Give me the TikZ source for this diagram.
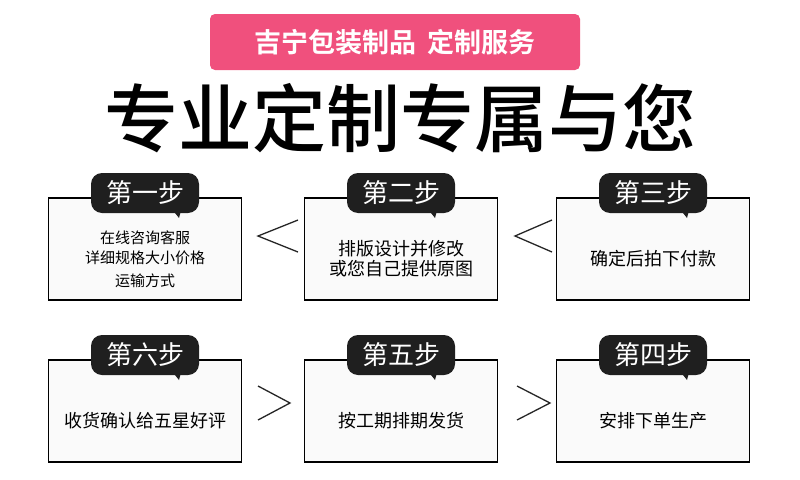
\documentclass[tikz,border=0pt]{standalone}
\usepackage{fontspec}
\newfontfamily\cjk{Noto Sans CJK SC}
\newfontfamily\cjkm{Noto Sans CJK SC Medium}
\newfontfamily\cjkb{Noto Sans CJK SC Bold}
\definecolor{banpink}{RGB}{240,80,125}
\begin{document}
\begin{tikzpicture}[x=1pt,y=-1pt,
  stepbox/.style={draw=black,line width=1.6pt,fill=black!2,minimum width=193pt,minimum height=102pt,inner sep=0pt},
  body/.style={font=\cjk\fontsize{#1}{20}\selectfont,align=center},
  tag/.style={fill=black!88,rounded corners=11pt,minimum width=108pt,minimum height=40pt,inner sep=0pt,text=white,font=\cjk\fontsize{26}{28}\selectfont},
  sign/.style={line width=1.3pt,black!85}]
\useasboundingbox (0,0) rectangle (800,479);
\fill[white] (0,0) rectangle (800,479);
\node[fill=banpink,rounded corners=5pt,minimum width=370pt,minimum height=56pt,text=white,font=\cjkb\fontsize{27}{29}\selectfont] (ban) at (395,42) {吉宁包装制品\hspace{0.4em}定制服务};
\node[font=\cjkm\fontsize{74}{76}\selectfont] (title) at (400,118) {专业定制专属与您};
\foreach \n/\x/\y/\t/\s/\f in {
 b1/145/249/{在线咨询客服\\详细规格大小价格\\[3pt]运输方式}/第一步/15,
 b2/401/249/{排版设计并修改\\或您自己提供原图}/第二步/18,
 b3/653/249/{确定后拍下付款}/第三步/18,
 b6/145/411/{收货确认给五星好评}/第六步/18,
 b5/401/411/{按工期排期发货}/第五步/18,
 b4/653/411/{安排下单生产}/第四步/18}{
  \node[stepbox] (\n) at (\x,\y) {};
  \node[body=\f] (x\n) at (\x,\y+10) {\t};
  \fill[black!88] (\x+22,\y-46) -- (\x+38,\y-46) -- (\x+34,\y-31) -- cycle;
  \node[tag] (t\n) at (\x,\y-56) {\s};
}
\coordinate (l1) at (298,220); \coordinate (l2) at (258,236); \coordinate (l3) at (298,252);
\draw[sign] (l1)--(l2)--(l3);
\coordinate (m1) at (552,220); \coordinate (m2) at (515,236); \coordinate (m3) at (552,252);
\draw[sign] (m1)--(m2)--(m3);
\coordinate (r1) at (258,386); \coordinate (r2) at (290,403); \coordinate (r3) at (258,420);
\draw[sign] (r1)--(r2)--(r3);
\coordinate (s1) at (517,386); \coordinate (s2) at (550,403); \coordinate (s3) at (517,420);
\draw[sign] (s1)--(s2)--(s3);
\end{tikzpicture}
\end{document}
